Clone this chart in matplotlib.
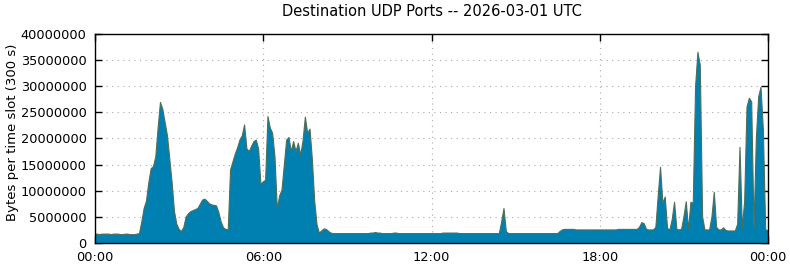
import matplotlib
matplotlib.use("Agg")
import matplotlib.pyplot as plt
from matplotlib.ticker import FuncFormatter
import numpy as np

title = "Destination UDP Ports -- 2026-03-01 UTC"
ylabel = "Bytes per time slot (300 s)"
xtick_labels = ["00:00", "06:00", "12:00", "18:00", "00:00"]
ytick_values = [0, 5000000, 10000000, 15000000, 20000000, 25000000, 30000000, 35000000, 40000000]

# bytes per 5-minute slot, in millions (slot 0 = 00:00 ... slot 288 = 24:00)
values_mb = [
    # 00:00 - 01:35
    1.7, 1.7, 1.6, 1.7, 1.7, 1.7, 1.7, 1.6, 1.7, 1.7, 1.7, 1.6, 1.6, 1.7, 1.7, 1.6, 1.6, 1.6, 1.7, 1.8,
    # 01:40 - 03:15
    4.0, 6.6, 8.0, 11.5, 14.2, 14.6, 16.5, 22.0, 26.9, 25.6, 23.0, 20.5, 16.0, 11.5, 6.0, 3.6, 2.6, 2.2, 3.0, 5.0,
    # 03:20 - 04:55
    5.6, 6.0, 6.2, 6.4, 6.6, 7.4, 8.2, 8.4, 8.0, 7.5, 7.3, 7.2, 7.1, 5.8, 4.0, 2.9, 2.6, 2.5, 14.0, 15.5,
    # 05:00 - 06:35
    17.0, 18.2, 19.7, 20.5, 22.6, 18.0, 17.5, 18.5, 19.4, 19.7, 18.0, 11.2, 11.7, 12.0, 24.2, 22.0, 21.0, 16.5, 6.5, 9.0,
    # 06:40 - 08:15
    10.1, 15.0, 19.7, 20.2, 17.5, 19.4, 17.5, 19.1, 16.8, 19.5, 24.1, 21.0, 21.8, 16.0, 8.0, 3.5, 1.9, 2.3, 2.7, 2.6,
    # 08:20 - 09:55
    2.2, 1.9, 1.8, 1.8, 1.8, 1.8, 1.8, 1.8, 1.8, 1.8, 1.8, 1.8, 1.8, 1.8, 1.8, 1.8, 1.8, 1.8, 1.9, 1.9,
    # 10:00 - 11:35
    2.0, 1.9, 1.9, 1.8, 1.8, 1.8, 1.8, 1.8, 1.9, 1.9, 1.8, 1.8, 1.8, 1.8, 1.8, 1.8, 1.8, 1.8, 1.8, 1.8,
    # 11:40 - 13:15
    1.8, 1.8, 1.8, 1.8, 1.8, 1.8, 1.8, 1.8, 1.8, 1.9, 1.9, 1.9, 1.9, 1.9, 1.9, 1.9, 1.8, 1.8, 1.8, 1.8,
    # 13:20 - 14:55
    1.8, 1.8, 1.8, 1.8, 1.8, 1.8, 1.8, 1.8, 1.8, 1.8, 1.8, 1.8, 1.8, 1.8, 4.0, 6.6, 2.2, 1.8, 1.8, 1.8,
    # 15:00 - 16:35
    1.8, 1.8, 1.8, 1.8, 1.8, 1.8, 1.8, 1.8, 1.8, 1.8, 1.8, 1.8, 1.8, 1.8, 1.8, 1.8, 1.8, 1.8, 1.8, 2.2,
    # 16:40 - 18:15
    2.5, 2.6, 2.6, 2.6, 2.6, 2.6, 2.5, 2.5, 2.5, 2.5, 2.5, 2.5, 2.5, 2.5, 2.5, 2.5, 2.5, 2.5, 2.5, 2.5,
    # 18:20 - 19:55
    2.5, 2.5, 2.5, 2.5, 2.6, 2.6, 2.6, 2.6, 2.6, 2.6, 2.6, 2.6, 2.6, 3.0, 3.9, 3.7, 2.6, 2.5, 2.5, 2.5,
    # 20:00 - 21:35
    3.0, 9.0, 14.5, 7.6, 8.8, 2.8, 2.5, 4.5, 7.8, 2.6, 2.5, 2.6, 5.0, 7.9, 2.6, 7.8, 7.6, 30.0, 36.5, 34.0,
    # 21:40 - 23:15
    5.0, 2.5, 2.5, 2.5, 5.0, 9.7, 3.0, 2.5, 2.5, 2.9, 2.4, 2.3, 2.3, 2.3, 2.3, 3.6, 18.3, 2.8, 8.0, 26.0,
    # 23:20 - 24:00
    27.7, 27.0, 2.8, 20.0, 28.0, 29.8, 21.6, 2.5, 2.4,
]

slot_hours = np.arange(len(values_mb)) * (5.0 / 60.0)
values = np.array(values_mb) * 1e6

fig = plt.figure(figsize=(7.9, 2.67), dpi=100)
ax = fig.add_axes([0.1203, 0.0899, 0.8519, 0.7828])

ax.fill_between(slot_hours, 0, values, facecolor="#0080b0", edgecolor="none", zorder=2)
ax.plot(slot_hours, values, color="#4f6e58", linewidth=0.8, zorder=3)

ax.set_xlim(0, 24)
ax.set_ylim(0, 40000000)
ax.set_xticks([0, 6, 12, 18, 24])
ax.set_xticklabels(xtick_labels)
ax.set_yticks(ytick_values)
ax.yaxis.set_major_formatter(FuncFormatter(lambda v, p: "%d" % v))

ax.grid(True, color="#aaaaaa", linestyle=(0, (1, 4)), linewidth=0.8, zorder=1)
ax.tick_params(direction="in", top=True, right=True, length=5, width=1.0,
               labelsize=9.3, colors="black")
ax.tick_params(axis="x", pad=6)
ax.tick_params(axis="y", pad=6)
for s in ax.spines.values():
    s.set_linewidth(1.0)
    s.set_zorder(4)

ax.set_ylabel(ylabel, fontsize=9.5)
ax.yaxis.set_label_coords(-0.113, 0.53)
fig.suptitle(title, fontsize=10.5, x=0.547, y=0.985)

fig.savefig("out.png", dpi=100)
